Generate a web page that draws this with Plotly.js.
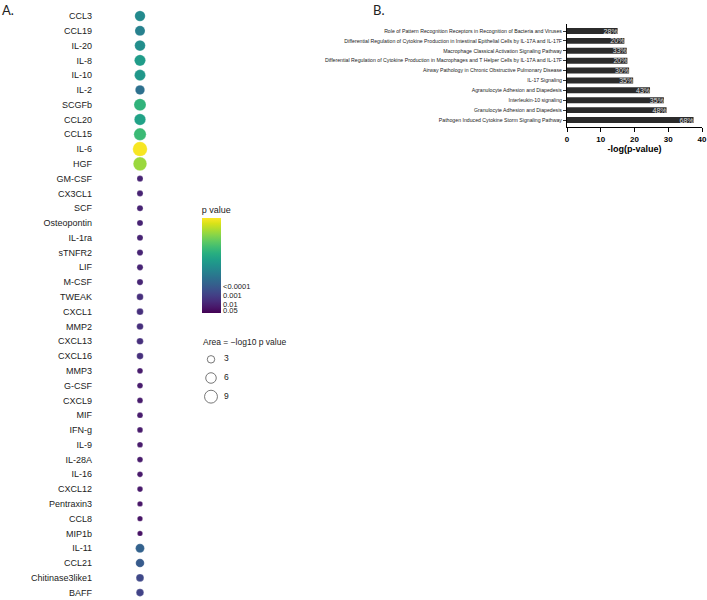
<!DOCTYPE html>
<html>
<head>
<meta charset="utf-8">
<script src="https://cdn.plot.ly/plotly-3.0.1.min.js"></script>
<style>html,body{margin:0;padding:0;background:#fff;}#chart{width:707px;height:600px;}</style>
</head>
<body>
<div id="chart"></div>
<script>
// ---- Panel A data: cytokines, -log10 p value (colour and area) ----
const cytokines = ["CCL3","CCL19","IL-20","IL-8","IL-10","IL-2","SCGFb","CCL20","CCL15","IL-6","HGF",
  "GM-CSF","CX3CL1","SCF","Osteopontin","IL-1ra","sTNFR2","LIF","M-CSF","TWEAK","CXCL1","MMP2","CXCL13",
  "CXCL16","MMP3","G-CSF","CXCL9","MIF","IFN-g","IL-9","IL-28A","IL-16","CXCL12","Pentraxin3","CCL8","MIP1b",
  "IL-11","CCL21","Chitinase3like1","BAFF"];
const negLog10P = [6.0,5.6,6.2,6.8,6.6,4.9,7.9,7.1,8.2,11.5,10.0,
  2.0,2.0,2.0,2.0,2.0,2.05,2.05,2.1,2.4,2.4,2.4,2.4,
  2.4,1.8,1.8,1.8,1.8,1.75,1.75,1.75,1.7,1.7,1.6,1.55,1.5,
  4.3,4.0,3.3,3.1];
const pTickVals = [1.3, 2, 3, 4];
const pTickText = ["0.05", "0.01", "0.001", "<0.0001"];
const sizeLegendVals = [3, 6, 9];

// ---- Panel B data: pathways ----
const pathways = [
  "Role of Pattern Recognition Receptors in Recognition of Bacteria and Viruses",
  "Differential Regulation of Cytokine Production in Intestinal Epithelial Cells by IL-17A and IL-17F",
  "Macrophage Classical Activation Signaling Pathway",
  "Differential Regulation of Cytokine Production in Macrophages and T Helper Cells by IL-17A and IL-17F",
  "Airway Pathology in Chronic Obstructive Pulmonary Disease",
  "IL-17 Signaling",
  "Agranulocyte Adhesion and Diapedesis",
  "Interleukin-10 signaling",
  "Granulocyte Adhesion and Diapedesis",
  "Pathogen Induced Cytokine Storm Signaling Pathway"];
const pathwayNegLogP = [15.0, 17.0, 17.7, 17.9, 18.4, 19.6, 24.6, 28.7, 29.5, 37.5];
const pathwayOverlap = ["28%", "20%", "33%", "20%", "30%", "35%", "43%", "35%", "48%", "68%"];
const barTicks = [0, 10, 20, 30, 40];

const W = 707, H = 600;
const px = v => v / W;
const py = v => 1 - v / H;
const SIZEREF = 0.108;
const FONT = "Liberation Sans, Arial, Helvetica, sans-serif";

const dots = {
  type: "scatter", mode: "markers",
  x: cytokines.map(() => 0), y: cytokines,
  xaxis: "x", yaxis: "y", cliponaxis: false,
  marker: {
    size: negLog10P, sizemode: "area", sizeref: SIZEREF, opacity: 1,
    color: negLog10P, colorscale: "Viridis", cmin: 1.0, cmax: 11.6,
    line: {width: 0.4, color: "rgba(255,255,255,0.6)"},
    showscale: true,
    colorbar: {
      x: px(201.7), xanchor: "left", xpad: 0,
      y: py(203), yanchor: "top", ypad: 0,
      len: 110, lenmode: "pixels", thickness: 19, thicknessmode: "pixels",
      outlinewidth: 0, ticks: "", tickvals: pTickVals, ticktext: pTickText,
      tickfont: {family: FONT, size: 7.5, color: "#222"},
      title: {text: "p value", side: "top", font: {family: FONT, size: 9, color: "#222"}}
    }
  },
  hoverinfo: "x+y", showlegend: false
};

const legendCircles = {
  type: "scatter", mode: "markers", cliponaxis: false,
  x: sizeLegendVals.map(() => 11), y: sizeLegendVals.map((v, i) => i),
  xaxis: "x3", yaxis: "y3",
  marker: {size: sizeLegendVals, sizemode: "area", sizeref: SIZEREF, opacity: 1,
    color: "rgba(255,255,255,0)", line: {width: 0.8, color: "#555"}},
  showlegend: false, hoverinfo: "skip"
};
const legendText = {
  type: "scatter", mode: "text", cliponaxis: false,
  x: sizeLegendVals.map(() => 24), y: sizeLegendVals.map((v, i) => i),
  text: sizeLegendVals.map(String), textposition: "middle right",
  textfont: {family: FONT, size: 8.5, color: "#222"},
  xaxis: "x3", yaxis: "y3", showlegend: false, hoverinfo: "skip"
};

const bars = {
  type: "bar", orientation: "h",
  x: pathwayNegLogP, y: pathways,
  xaxis: "x2", yaxis: "y2",
  marker: {color: "#2b2b2b"},
  text: pathwayOverlap, textposition: "inside", insidetextanchor: "end",
  constraintext: "none",
  textfont: {family: FONT, size: 7, color: "#e0e0e0"},
  showlegend: false
};

const layout = {
  width: W, height: H,
  margin: {l: 0, r: 0, t: 0, b: 0},
  paper_bgcolor: "#fff", plot_bgcolor: "rgba(0,0,0,0)",
  font: {family: FONT, color: "#222"},
  showlegend: false,
  bargap: 0.4,
  xaxis: {domain: [px(93), px(187)], range: [-1, 1], visible: false, fixedrange: true},
  yaxis: {domain: [0, 1 - 8.6 / H], type: "category", categoryarray: cytokines,
    range: [39.5, -0.5], autorange: false,
    showline: false, showgrid: false, zeroline: false, ticks: "",
    tickfont: {family: FONT, size: 9, color: "#222"}, automargin: false},
  xaxis2: {domain: [px(567), px(702)], range: [0, 40], anchor: "y2",
    tickvals: barTicks, ticks: "outside", ticklen: 4, tickwidth: 1, tickcolor: "#000",
    showline: true, linecolor: "#000", linewidth: 1, showgrid: false, zeroline: false,
    tickfont: {family: FONT, size: 8, color: "#000000", weight: "bold"},
    title: {text: "-log(p-value)", font: {family: FONT, size: 9, color: "#000000", weight: "bold"}, standoff: 3},
    automargin: false},
  yaxis2: {domain: [py(127), py(24)], type: "category", categoryarray: pathways,
    range: [9.708, -0.708], autorange: false, anchor: "x2",
    ticks: "outside", ticklen: 3, tickwidth: 0.8, tickcolor: "#000",
    showline: true, linecolor: "#000", linewidth: 1, showgrid: false, zeroline: false,
    tickfont: {family: FONT, size: 5.2, color: "#222"}, automargin: false},
  xaxis3: {domain: [px(200), px(260)], range: [0, 60], visible: false, anchor: "y3"},
  yaxis3: {domain: [py(406), py(350)], range: [2.5, -0.5], visible: false, anchor: "x3"},
  annotations: [
    {text: "A.", x: 0, y: 1, xref: "paper", yref: "paper", xanchor: "left", yanchor: "top",
      showarrow: false, font: {family: "Lato, sans-serif", size: 13, color: "#222"}},
    {text: "B.", x: px(371), y: 1, xref: "paper", yref: "paper", xanchor: "left", yanchor: "top",
      showarrow: false, font: {family: "Lato, sans-serif", size: 13, color: "#222"}},
    {text: "Area = \u2212log10 p value", x: px(201), y: py(341.7), xref: "paper", yref: "paper",
      xanchor: "left", yanchor: "middle", showarrow: false,
      font: {family: FONT, size: 8.5, color: "#222"}}
  ]
};

Plotly.newPlot("chart", [dots, legendCircles, legendText, bars], layout, {displayModeBar: false, staticPlot: true});
</script>
</body>
</html>
